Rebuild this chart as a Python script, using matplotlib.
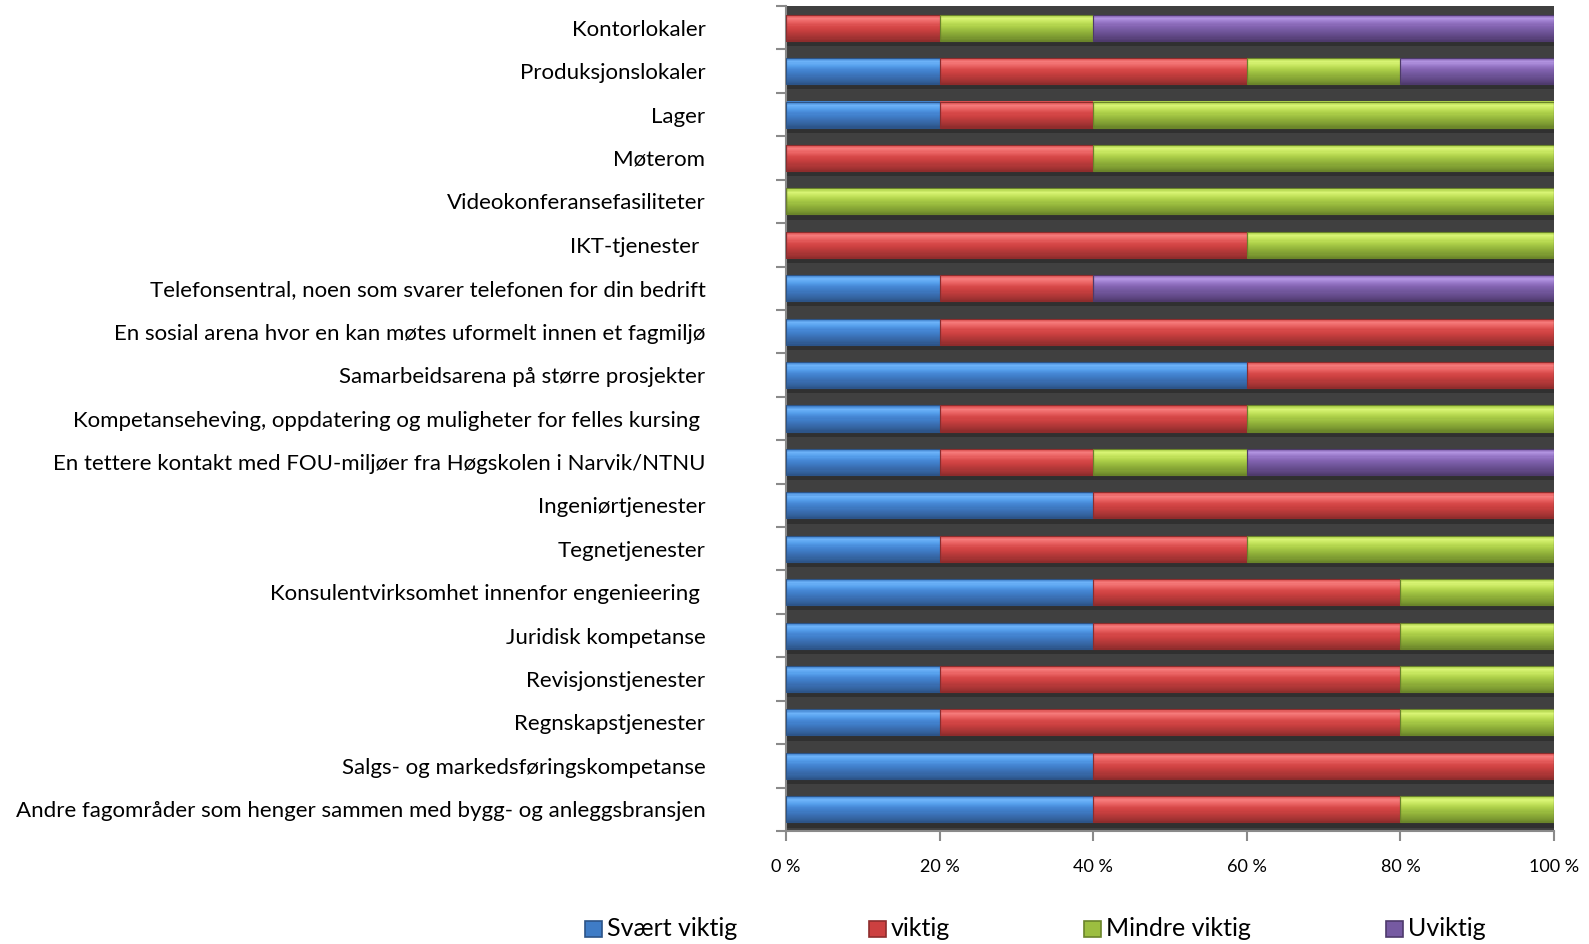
import numpy as np
import matplotlib.pyplot as plt
from matplotlib.colors import to_rgb
from matplotlib.patches import Rectangle

plt.rcParams['font.family'] = ['Lato', 'DejaVu Sans']

categories = [
    "Kontorlokaler",
    "Produksjonslokaler",
    "Lager",
    "Møterom",
    "Videokonferansefasiliteter",
    "IKT-tjenester ",
    "Telefonsentral, noen som svarer telefonen for din bedrift",
    "En sosial arena hvor en kan møtes uformelt innen et fagmiljø",
    "Samarbeidsarena på større prosjekter",
    "Kompetanseheving, oppdatering og muligheter for felles kursing ",
    "En tettere kontakt med FOU-miljøer fra Høgskolen i Narvik/NTNU",
    "Ingeniørtjenester",
    "Tegnetjenester",
    "Konsulentvirksomhet innenfor engenieering ",
    "Juridisk kompetanse",
    "Revisjonstjenester",
    "Regnskapstjenester",
    "Salgs- og markedsføringskompetanse",
    "Andre fagområder som henger sammen med bygg- og anleggsbransjen",
]

series_names = ["Svært viktig", "viktig", "Mindre viktig", "Uviktig"]

svaert_viktig = [0, 20, 20, 0, 0, 0, 20, 20, 60, 20, 20, 40, 20, 40, 40, 20, 20, 40, 40]
viktig = [20, 40, 20, 40, 0, 60, 20, 80, 40, 40, 20, 60, 40, 40, 40, 60, 60, 60, 40]
mindre_viktig = [20, 20, 60, 60, 100, 40, 0, 0, 0, 40, 20, 0, 40, 20, 20, 20, 20, 0, 20]
uviktig = [60, 20, 0, 0, 0, 0, 60, 0, 0, 0, 40, 0, 0, 0, 0, 0, 0, 0, 0]

x_ticks = [0, 20, 40, 60, 80, 100]

# colour profile of each bar from top edge to bottom edge
profiles = {
    "Svært viktig": ["#3c7cc8", "#6cb2f8", "#56a0ec", "#4688d6", "#3f7cc6", "#3a6eb2", "#3464a0", "#2c5488"],
    "viktig": ["#d84848", "#f57a7a", "#ea6262", "#d84a4a", "#cc4040", "#b83a3a", "#a63434", "#8e2c2c"],
    "Mindre viktig": ["#a8cc44", "#d8f474", "#c4e45c", "#aed04a", "#9cbe40", "#8cac38", "#7e9c32", "#6a842a"],
    "Uviktig": ["#7a5aa8", "#b294e0", "#9878c8", "#8464b2", "#765aa2", "#6a5092", "#5e4682", "#4e3a6c"],
}
legend_colors = {name: (p[4], p[7]) for name, p in profiles.items()}

data = [svaert_viktig, viktig, mindre_viktig, uviktig]

fig = plt.figure(figsize=(15.89, 9.44), dpi=100)
ax = fig.add_axes([786 / 1589, 1 - 831 / 944, 768 / 1589, 825 / 944])
ax.set_facecolor('#404040')

n = len(categories)
y = np.arange(n)[::-1]
h = 0.6
n_strips = 24

# shadow band under each bar
ax.barh(y - h / 2 - 0.06, 100, height=0.12, left=0, color='#303030', zorder=1)

left = np.zeros(n)
for name, vals in zip(series_names, data):
    vals = np.array(vals, dtype=float)
    stops = np.array([to_rgb(c) for c in profiles[name]])
    pos = np.linspace(0, 1, len(stops))
    sh = h / n_strips
    for k in range(n_strips):
        t = (k + 0.5) / n_strips
        col = [np.interp(t, pos, stops[:, j]) for j in range(3)]
        yc = y + h / 2 - (k + 0.5) * sh
        ax.barh(yc, vals, height=sh * 1.05, left=left, color=col,
                linewidth=0, zorder=2)
    # thin dark separators between segments
    ax.barh(y, vals, height=h, left=left, facecolor='none',
            edgecolor=profiles[name][7], linewidth=0.8, zorder=3)
    left += vals

ax.set_xlim(0, 100)
ax.set_ylim(-0.5, n - 0.5)

ax.set_yticks(y)
ax.set_yticklabels(categories, fontsize=16, color='#000000')
ax.set_yticks(np.arange(-0.5, n, 1.0), minor=True)
ax.tick_params(axis='y', which='major', length=0, pad=58)
ax.tick_params(axis='y', which='minor', length=7, width=1.5, color='#8a8a8a')

ax.set_xticks(x_ticks)
ax.set_xticklabels([f"{t} %" for t in x_ticks], fontsize=13)
ax.tick_params(axis='x', length=7, width=1.5, color='#8a8a8a', pad=13)

for side in ['top', 'right']:
    ax.spines[side].set_visible(False)
for side in ['left', 'bottom']:
    ax.spines[side].set_color('#8a8a8a')
    ax.spines[side].set_linewidth(1.5)

# legend, placed by hand
legend_x = [585, 869, 1084, 1386]
legend_y = 944 - 929
for name, lx in zip(series_names, legend_x):
    base, dark = legend_colors[name]
    fig.patches.append(Rectangle((lx / 1589, (legend_y - 8) / 944), 17 / 1589, 16 / 944,
                                 transform=fig.transFigure, facecolor=base,
                                 edgecolor=dark, linewidth=1.2))
    fig.text((lx + 22) / 1589, legend_y / 944, name, fontsize=18, va='center', ha='left')

fig.savefig('out.png', dpi=100)
